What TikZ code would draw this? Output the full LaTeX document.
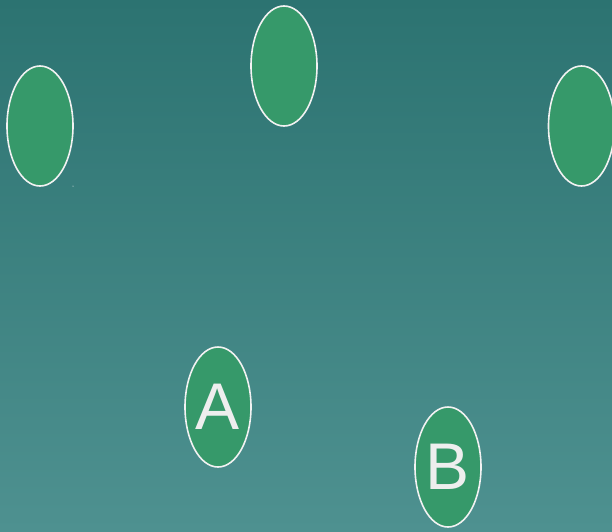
\documentclass[tikz,border=0pt]{standalone}
\usepackage{fontspec}
\setmainfont{Liberation Sans}
\usetikzlibrary{shapes.geometric}
\definecolor{bgtop}{HTML}{2C7371}
\definecolor{bgbot}{HTML}{4E9190}
\definecolor{nodefill}{HTML}{36996A}
\definecolor{nodeline}{HTML}{F2F2F2}
\definecolor{txt}{HTML}{EEEEEE}
\begin{document}
\begin{tikzpicture}[x=1pt,y=-1pt,
  oval/.style={ellipse, draw=nodeline, line width=1.6pt, fill=nodefill,
    minimum width=66pt, minimum height=120pt, inner sep=0pt,
    text=txt, font=\fontsize{66}{66}\selectfont}]
\useasboundingbox (0,0) rectangle (612,531);
\shade[top color=bgtop, bottom color=bgbot] (0,0) rectangle (612,531);
\node[oval] (n1) at (40,126) {};
\node[oval] (n2) at (284,66) {};
\node[oval] (n3) at (581.5,126) {};
\node[oval] (a) at (218,407) {A};
\node[oval] (b) at (448,467) {B};
\fill[white] (73,186) circle (0.5pt);
\end{tikzpicture}
\end{document}
